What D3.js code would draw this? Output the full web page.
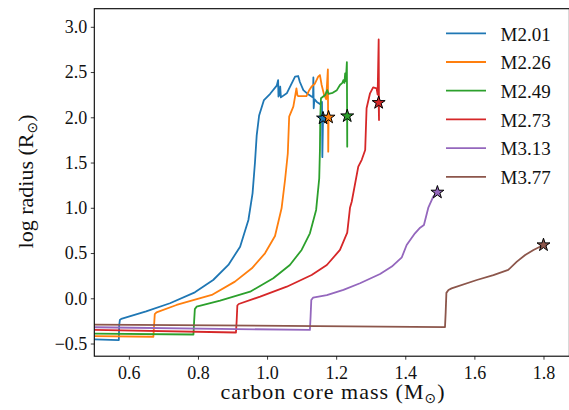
<!DOCTYPE html>
<html>
<head>
<meta charset="utf-8">
<script src="https://cdn.jsdelivr.net/npm/d3@7"></script>
<style>
  html, body { margin: 0; padding: 0; background: #fff; }
  svg { display: block; }
  text { font-family: "Liberation Serif", "DejaVu Serif", serif; fill: #111; }
</style>
</head>
<body>
<svg id="chart" width="569" height="410"></svg>
<script>
// Track labels and colours (one track per initial mass)
const labels = ["M2.01", "M2.26", "M2.49", "M2.73", "M3.13", "M3.77"];
const colors = ["#1f77b4", "#ff7f0e", "#2ca02c", "#d62728", "#9467bd", "#8c564b"];

// [carbon core mass, log radius] along each track; last point is marked with a star
const m201 = [[0.5,-0.455],[0.571,-0.462],[0.572,-0.30],[0.574,-0.24],[0.578,-0.228],[0.65,-0.145],[0.719,-0.055],[0.791,0.066],[0.844,0.202],[0.888,0.368],[0.922,0.570],[0.946,0.865],[0.958,1.16],[0.965,1.50],[0.970,1.80],[0.977,2.02],[0.991,2.19],[1.009,2.26],[1.028,2.35],[1.032,2.41],[1.033,2.23],[1.036,2.25],[1.038,2.34],[1.040,2.22],[1.057,2.265],[1.081,2.45],[1.090,2.456],[1.095,2.39],[1.105,2.30],[1.119,2.254],[1.133,2.22],[1.134,2.44],[1.135,2.10],[1.137,2.20],[1.144,2.17],[1.153,2.147],[1.159,2.17],[1.160,1.56],[1.162,1.99]];
const m226 = [[0.5,-0.418],[0.671,-0.425],[0.673,-0.30],[0.675,-0.175],[0.68,-0.155],[0.738,-0.074],[0.84,0.037],[0.907,0.184],[0.956,0.331],[0.994,0.497],[1.023,0.688],[1.042,0.994],[1.052,1.307],[1.060,1.60],[1.064,2.007],[1.076,2.117],[1.081,2.228],[1.085,2.32],[1.088,2.24],[1.09,2.235],[1.114,2.235],[1.122,2.30],[1.129,2.34],[1.138,2.37],[1.148,2.449],[1.153,2.467],[1.158,2.357],[1.165,2.25],[1.171,2.20],[1.176,2.53],[1.177,1.62],[1.178,2.0]];
const m249 = [[0.5,-0.39],[0.787,-0.40],[0.789,-0.25],[0.791,-0.12],[0.796,-0.093],[0.864,-0.026],[0.951,0.073],[1.018,0.221],[1.066,0.368],[1.1,0.534],[1.124,0.718],[1.142,0.976],[1.151,1.326],[1.153,1.64],[1.154,2.0],[1.156,2.21],[1.168,2.246],[1.174,2.30],[1.178,2.26],[1.19,2.27],[1.202,2.30],[1.211,2.357],[1.218,2.38],[1.221,2.41],[1.224,2.38],[1.226,2.486],[1.228,2.40],[1.231,2.61],[1.232,1.675],[1.232,2.014]];
const m273 = [[0.5,-0.35],[0.91,-0.378],[0.912,-0.25],[0.914,-0.08],[0.918,-0.063],[0.98,0.018],[1.057,0.128],[1.129,0.257],[1.173,0.368],[1.211,0.534],[1.232,0.725],[1.240,1.0],[1.245,1.067],[1.264,1.454],[1.274,1.53],[1.284,1.639],[1.288,2.10],[1.298,2.265],[1.307,2.33],[1.317,2.32],[1.320,2.25],[1.323,2.86],[1.324,1.97],[1.323,2.161]];
const m313 = [[0.5,-0.32],[1.124,-0.35],[1.126,-0.2],[1.128,-0.02],[1.133,0.007],[1.173,0.036],[1.221,0.092],[1.269,0.166],[1.327,0.268],[1.361,0.35],[1.39,0.453],[1.404,0.589],[1.428,0.718],[1.443,0.78],[1.454,0.81],[1.467,1.005],[1.481,1.123],[1.493,1.171]];
const m377 = [[0.5,-0.29],[1.515,-0.318],[1.517,-0.15],[1.519,0.06],[1.525,0.092],[1.534,0.11],[1.607,0.202],[1.655,0.257],[1.698,0.313],[1.723,0.405],[1.747,0.478],[1.771,0.534],[1.8,0.589]];

const xTicks = [0.6, 0.8, 1.0, 1.2, 1.4, 1.6, 1.8];
const yTicks = [-0.5, 0.0, 0.5, 1.0, 1.5, 2.0, 2.5, 3.0];

const tracks = [m201, m226, m249, m273, m313, m377];

const svg = d3.select("#chart");
const pLeft = 94.3, pRight = 569.4, pTop = 8.7, pBottom = 356.2;

const x = d3.scaleLinear().domain([0.5, 1.875]).range([pLeft, pRight]);
const y = d3.scaleLinear().domain([-0.64, 3.2]).range([pBottom, pTop]);

const plot = svg.append("g");
plot.append("clipPath").attr("id", "clip")
  .append("rect").attr("x", pLeft).attr("y", pTop)
  .attr("width", pRight - pLeft).attr("height", pBottom - pTop);

const line = d3.line().x(d => x(d[0])).y(d => y(d[1]));

const curves = plot.append("g").attr("clip-path", "url(#clip)");
tracks.forEach((t, i) => {
  curves.append("path")
    .attr("d", line(t))
    .attr("fill", "none")
    .attr("stroke", colors[i])
    .attr("stroke-width", 1.8)
    .attr("stroke-linejoin", "round");
});

// end-of-track markers
const star = d3.symbol().type(d3.symbolStar).size(52);
tracks.forEach((t, i) => {
  const p = t[t.length - 1];
  plot.append("path")
    .attr("d", star())
    .attr("transform", `translate(${x(p[0])},${y(p[1])})`)
    .attr("fill", colors[i])
    .attr("stroke", "#000")
    .attr("stroke-width", 1)
    .attr("stroke-linejoin", "miter");
});

// axes
const xAxis = d3.axisBottom(x).tickValues(xTicks).tickFormat(d3.format(".1f"))
  .tickSizeInner(3.5).tickSizeOuter(0).tickPadding(6.5);
const yAxis = d3.axisLeft(y).tickValues(yTicks).tickFormat(d3.format(".1f"))
  .tickSizeInner(3.5).tickSizeOuter(0).tickPadding(3.5);

const gx = svg.append("g").attr("transform", `translate(0,${pBottom})`).call(xAxis);
const gy = svg.append("g").attr("transform", `translate(${pLeft},0)`).call(yAxis);
[gx, gy].forEach(g => {
  g.select(".domain").remove();
  g.selectAll(".tick line").attr("stroke", "#222").attr("stroke-width", 0.9);
  g.selectAll(".tick text").attr("font-size", 18).attr("fill", "#111")
    .style("font-family", "'Liberation Serif', serif");
});

// frame
svg.append("rect").attr("x", pLeft).attr("y", pTop)
  .attr("width", pRight - pLeft).attr("height", pBottom - pTop)
  .attr("fill", "none").attr("stroke", "#000").attr("stroke-width", 1.1);

// axis titles
const xt = svg.append("text")
  .attr("x", 333).attr("y", 398.5)
  .attr("text-anchor", "middle").attr("font-size", 22)
  .attr("letter-spacing", 1);
xt.append("tspan").text("carbon core mass (M");
xt.append("tspan").attr("font-size", 14).attr("dy", 4)
  .style("font-family", "'DejaVu Sans', sans-serif").text("⊙");
xt.append("tspan").attr("dy", -4).text(")");

const yt = svg.append("text")
  .attr("transform", `translate(33,${(pTop + pBottom) / 2 - 1}) rotate(-90)`)
  .attr("text-anchor", "middle").attr("font-size", 22);
yt.append("tspan").text("log radius (R");
yt.append("tspan").attr("font-size", 14).attr("dy", 4)
  .style("font-family", "'DejaVu Sans', sans-serif").text("⊙");
yt.append("tspan").attr("dy", -4).text(")");

// legend
const legend = svg.append("g");
labels.forEach((lab, i) => {
  const ly = 33.3 + i * 28.7;
  legend.append("line").attr("x1", 446).attr("x2", 486)
    .attr("y1", ly).attr("y2", ly)
    .attr("stroke", colors[i]).attr("stroke-width", 1.8);
  legend.append("text").attr("x", 500.5).attr("y", ly + 7.2)
    .attr("font-size", 19).text(lab);
});
</script>
</body>
</html>
